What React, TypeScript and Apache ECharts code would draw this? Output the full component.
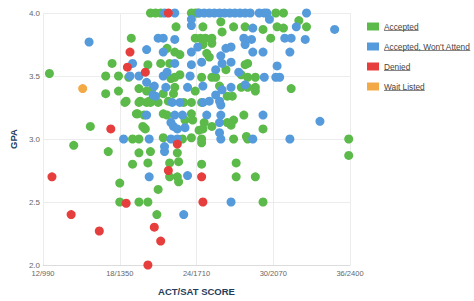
import React, { useEffect, useRef } from "react";
import * as echarts from "echarts";

const ACT_TICKS = [12, 18, 24, 30, 36];
const SAT_LABELS = ["990", "1350", "1710", "2070", "2400"];
const GPA_TICKS = [2.0, 2.5, 3.0, 3.5, 4.0];
const SERIES_NAMES = ["Accepted", "Accepted, Won't Attend", "Denied", "Wait Listed"];
const COLORS = ["#5cba4a", "#559bdb", "#e63e3c", "#f4a947"];

const accepted = [
  [12.5, 3.52], [15.7, 3.1], [14.4, 2.95], [18.9, 3.8], [17.4, 3.6],
  [16.9, 3.5], [17.9, 3.5], [18.7, 3.49], [16.9, 3.36], [17.9, 3.38], [18.5, 3.3],
  [19.5, 3.4], [19.6, 3.3], [20.3, 3.3], [19.3, 3.2], [19.9, 3.19], [19.8, 3.1], [20.0, 3.08],
  [19.0, 3.0], [19.5, 3.0], [21.2, 3.6], [20.2, 3.59], [22.4, 3.89],
  [20.4, 4.0], [20.8, 4.0], [21.2, 4.0], [23.6, 4.0], [23.9, 4.0], [24.1, 4.0], [30.2, 4.0], [30.8, 4.0],
  [32.0, 3.94], [24.5, 3.89], [25.9, 3.93], [26.9, 3.89], [27.8, 3.89], [29.2, 3.87], [30.3, 3.89],
  [30.8, 3.88], [32.6, 3.89], [26.0, 3.85],
  [23.9, 3.8], [24.3, 3.8], [24.7, 3.8], [25.2, 3.8], [29.8, 3.8],
  [21.7, 3.72], [22.3, 3.69], [22.7, 3.67], [24.5, 3.75], [25.2, 3.76],
  [27.8, 3.59], [28.0, 3.6], [25.0, 3.65], [24.8, 3.68], [26.3, 3.55], [21.9, 3.6],
  [22.3, 3.49], [22.7, 3.51], [24.4, 3.49], [25.2, 3.49], [25.5, 3.49], [27.5, 3.51], [28.0, 3.49],
  [28.6, 3.49], [22.0, 3.48],
  [20.6, 3.41], [22.3, 3.41], [23.9, 3.38], [25.8, 3.42], [27.5, 3.41], [28.0, 3.41], [28.6, 3.41],
  [31.4, 3.4], [20.1, 3.38], [21.4, 3.36], [22.2, 3.36], [21.8, 3.3],
  [18.4, 3.29], [19.5, 3.29], [20.1, 3.29], [20.4, 3.29], [21.0, 3.29], [23.0, 3.29], [23.6, 3.29],
  [24.4, 3.29], [26.4, 3.34], [26.8, 3.34], [28.6, 3.38],
  [19.4, 3.2], [21.4, 3.2], [21.7, 3.19], [23.6, 3.2], [27.7, 3.19], [23.1, 3.15], [23.7, 3.15],
  [24.2, 3.07], [24.5, 3.08], [24.6, 3.13], [25.2, 3.1], [26.4, 3.13], [26.7, 3.11], [26.9, 3.15],
  [29.2, 3.08], [19.9, 3.09],
  [21.4, 3.01], [22.9, 3.0], [23.6, 3.01], [24.4, 3.0], [26.9, 3.0], [27.9, 3.02], [28.0, 3.0],
  [35.9, 3.0], [24.4, 2.97],
  [17.1, 2.9], [19.5, 2.89], [20.4, 2.9], [22.5, 2.89], [35.9, 2.87],
  [19.0, 2.8], [20.2, 2.81], [22.6, 2.82], [21.9, 2.81], [24.4, 2.8], [27.1, 2.81],
  [21.9, 2.7], [22.5, 2.7], [22.6, 2.66], [27.1, 2.7], [28.6, 2.7],
  [18.0, 2.65], [21.0, 2.6],
  [18.0, 2.5], [19.5, 2.5], [20.2, 2.5], [29.2, 2.5], [20.9, 2.4],
];

const acceptedWontAttend = [
  [15.6, 3.77], [20.1, 3.71], [19.0, 3.6], [18.8, 3.5], [19.5, 3.5], [20.1, 3.45], [20.7, 3.42], [20.6, 3.35],
  [21.5, 4.0], [22.3, 4.0], [24.2, 4.0], [24.6, 4.0], [25.0, 4.0], [25.4, 4.0], [25.8, 4.0], [26.2, 4.0],
  [26.6, 4.0], [27.0, 4.0], [27.4, 4.0], [27.8, 4.0], [28.2, 4.0], [28.9, 4.0], [29.3, 4.0], [29.5, 4.0],
  [32.6, 4.0],
  [23.6, 3.95], [29.7, 3.95], [23.6, 3.9], [28.4, 3.88], [31.8, 3.89],
  [21.0, 3.8], [21.4, 3.8], [22.3, 3.79], [27.7, 3.8], [28.3, 3.79], [30.9, 3.8], [31.4, 3.8], [32.5, 3.79],
  [34.8, 3.87],
  [21.4, 3.69], [23.6, 3.69], [24.1, 3.73], [27.8, 3.75], [26.3, 3.72], [26.7, 3.73], [28.4, 3.69],
  [29.2, 3.69], [31.3, 3.69],
  [22.3, 3.6], [23.6, 3.59], [24.4, 3.61], [26.0, 3.6], [26.7, 3.61], [30.3, 3.58], [25.5, 3.55], [25.9, 3.66],
  [21.4, 3.5], [21.7, 3.53], [23.5, 3.5], [27.3, 3.53], [29.3, 3.49], [30.2, 3.49], [30.5, 3.49],
  [21.6, 3.41], [23.3, 3.41], [24.5, 3.42], [26.0, 3.39], [26.7, 3.41], [27.8, 3.43],
  [20.8, 3.34], [22.1, 3.29], [22.7, 3.29], [24.5, 3.29], [25.0, 3.3], [25.8, 3.3], [25.9, 3.27], [25.5, 3.35],
  [20.1, 3.19], [22.3, 3.19], [22.9, 3.19], [24.8, 3.19], [25.9, 3.19], [29.2, 3.19],
  [22.0, 3.13], [22.2, 3.1], [22.5, 3.08], [23.1, 3.09], [25.8, 3.13], [25.8, 3.05], [33.65, 3.14],
  [18.3, 3.0], [20.3, 3.0], [22.0, 3.0], [22.5, 3.0], [25.9, 3.0], [28.4, 3.0], [31.3, 3.0],
  [21.5, 2.94], [21.5, 2.9], [20.3, 2.7], [23.3, 2.71], [26.7, 2.5], [23.0, 2.4],
];

const denied = [
  [18.8, 3.69], [18.6, 3.57], [20.0, 3.53], [17.3, 3.08], [21.8, 4.0], [22.5, 2.96], [21.8, 2.75],
  [24.4, 2.7], [12.7, 2.7], [18.5, 2.49], [24.5, 2.5], [14.2, 2.4], [16.4, 2.27], [20.7, 2.3],
  [21.2, 2.19], [20.2, 2.0],
];

const waitListed = [[15.1, 3.4]];

const SERIES_DATA = [accepted, acceptedWontAttend, denied, waitListed];

const FONT = '"Liberation Sans", Arial, sans-serif';
const LEGEND_FONT_SIZE = 8.3;

function measure(text: string, size: number) {
  const c = document.createElement("canvas").getContext("2d");
  if (!c) return text.length * size * 0.5;
  c.font = `${size}px "Liberation Sans"`;
  return c.measureText(text).width;
}

export default function App() {
  const ref = useRef<HTMLDivElement>(null);
  useEffect(() => {
    if (!ref.current) return;
    const chart = echarts.init(ref.current, undefined, { renderer: "svg" });
    const legendLeft = 367;
    const legendTop = 22;
    const pitch = 20;
    const underlines = SERIES_NAMES.map((n, i) => {
      const x0 = legendLeft + 12 + 5;
      const y = legendTop + 4.5 + pitch * i + 4;
      return {
        type: "line",
        shape: { x1: x0, y1: y, x2: x0 + measure(n, LEGEND_FONT_SIZE), y2: y },
        style: { stroke: "#666", lineWidth: 0.8 },
        silent: true,
      };
    });
    chart.setOption({
      animation: false,
      textStyle: { fontFamily: FONT },
      grid: { left: 34, right: 124, top: 13, bottom: 35 },
      legend: {
        orient: "vertical",
        left: legendLeft,
        top: legendTop,
        padding: 0,
        itemWidth: 12,
        itemHeight: 8,
        itemGap: 11,
        icon: "rect",
        data: SERIES_NAMES,
        textStyle: { fontSize: LEGEND_FONT_SIZE, color: "#444", lineHeight: 9, fontFamily: FONT },
      },
      graphic: underlines,
      xAxis: {
        type: "value",
        min: 12,
        max: 36,
        interval: 6,
        name: "ACT/SAT SCORE",
        nameLocation: "middle",
        nameGap: 21,
        nameTextStyle: { fontWeight: "bold", fontSize: 9.5, color: "#1f3d5c", fontFamily: FONT },
        axisLine: { show: true, lineStyle: { color: "#dcdcdc" } },
        axisTick: { show: false },
        splitLine: { show: true, lineStyle: { color: "#ececec" } },
        axisLabel: {
          fontSize: 7.5,
          color: "#666",
          margin: 4,
          fontFamily: FONT,
          formatter: (v: number) => {
            const i = ACT_TICKS.indexOf(v);
            return i >= 0 ? `${v}/${SAT_LABELS[i]}` : "";
          },
        },
      },
      yAxis: {
        type: "value",
        min: GPA_TICKS[0],
        max: GPA_TICKS[GPA_TICKS.length - 1],
        interval: 0.5,
        name: "GPA",
        nameLocation: "middle",
        nameGap: 22,
        nameTextStyle: { fontWeight: "bold", fontSize: 9.5, color: "#1f3d5c", fontFamily: FONT },
        axisLine: { show: false },
        axisTick: { show: false },
        splitLine: { show: true, lineStyle: { color: "#ececec" } },
        axisLabel: {
          fontSize: 8,
          color: "#666",
          margin: 3,
          fontFamily: FONT,
          formatter: (v: number) => v.toFixed(1),
        },
      },
      series: SERIES_NAMES.map((name, i) => ({
        name,
        type: "scatter",
        symbol: "circle",
        symbolSize: 9,
        data: SERIES_DATA[i],
        itemStyle: { color: COLORS[i], opacity: 1 },
        emphasis: { disabled: true },
      })),
    });
    return () => chart.dispose();
  }, []);
  return (
    <div
      ref={ref}
      style={{ position: "fixed", left: 0, top: 0, width: 474, height: 301, background: "#fff" }}
    />
  );
}
